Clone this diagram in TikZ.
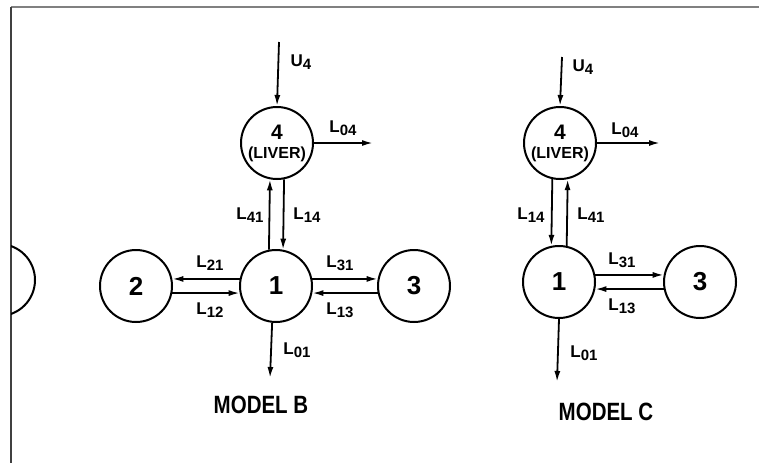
\documentclass[tikz,border=0pt]{standalone}
\usepackage{fontspec}
\setmainfont{Liberation Sans}
\usetikzlibrary{arrows.meta}
\newcommand{\rate}[2]{#1\raisebox{-0.35ex}{\fontsize{15}{15}\selectfont #2}}

\begin{document}
\begin{tikzpicture}[x=1pt,y=-1pt,
    comp/.style={circle,draw,line width=2pt,minimum size=72pt,inner sep=0pt,font=\bfseries\fontsize{26}{26}\selectfont},
    liver/.style={font=\bfseries\fontsize{21}{21}\selectfont},
    flow/.style={line width=1.8pt,-{Latex[length=11pt,width=6pt]}},
    lab/.style={font=\bfseries\fontsize{17}{17}\selectfont,inner sep=1pt},
    title/.style={font=\bfseries\fontsize{25}{25}\selectfont}]
    \useasboundingbox (0,0) rectangle (759,463);
    % frame
    \draw[gray,line width=1.5pt] (11,7) -- (759,7);
    \draw[darkgray,line width=1.2pt] (11,7) -- (11,463);
    \begin{scope}
      \clip (11,0) rectangle (759,463);
      \node (prev) [comp] at (-1,280) {};
    \end{scope}

    % model B
    \node (b1) [comp] at (276,286) {1};
    \node (b2) [comp] at (136,286) {2};
    \node (b3) [comp] at (414,286) {3};
    \node (b4) [comp,liver,align=center] at (277,143) {4\\[-2pt]{\fontsize{16}{16}\selectfont (LIVER)}};
    \coordinate (bu) at (279,42);
    \coordinate (bo4) at (373,143);
    \coordinate (bo1) at (270,378);
    \draw[flow] (bu) -- (b4.north);
    \draw[flow] (b4.east) -- (bo4);
    \draw[flow] (b1.264) -- (bo1);
    \draw[flow] (b1.101) -- (b4.259);
    \draw[flow] (b4.281) -- (b1.79);
    \draw[flow] (b1.169) -- (b2.11);
    \draw[flow] (b2.-11) -- (b1.191);
    \draw[flow] (b1.11) -- (b3.169);
    \draw[flow] (b3.191) -- (b1.-11);
    \node[lab] at (301,62) {\rate{U}{4}};
    \node[lab] at (343,128) {\rate{L}{04}};
    \node[lab] at (297,350) {\rate{L}{01}};
    \node[lab] at (250,215) {\rate{L}{41}};
    \node[lab] at (307,215) {\rate{L}{14}};
    \node[lab] at (210,263) {\rate{L}{21}};
    \node[lab] at (210,310) {\rate{L}{12}};
    \node[lab] at (340,263) {\rate{L}{31}};
    \node[lab] at (340,310) {\rate{L}{13}};
    \node[title] (mb) at (261,405) {\scalebox{0.82}[1]{MODEL B}};

    % model C
    \node (c1) [comp] at (559,282) {1};
    \node (c3) [comp] at (700,282) {3};
    \node (c4) [comp,liver,align=center] at (560,143) {4\\[-2pt]{\fontsize{16}{16}\selectfont (LIVER)}};
    \coordinate (cu) at (562,57);
    \coordinate (co4) at (660,143);
    \coordinate (co1) at (557,382);
    \draw[flow] (cu) -- (c4.north);
    \draw[flow] (c4.east) -- (co4);
    \draw[flow] (c1.south) -- (co1);
    \draw[flow] (c4.258) -- (c1.102);
    \draw[flow] (c1.78) -- (c4.282);
    \draw[flow] (c1.11) -- (c3.169);
    \draw[flow] (c3.191) -- (c1.-11);
    \node[lab] at (583,67) {\rate{U}{4}};
    \node[lab] at (625,130) {\rate{L}{04}};
    \node[lab] at (584,353) {\rate{L}{01}};
    \node[lab] at (531,215) {\rate{L}{14}};
    \node[lab] at (591,215) {\rate{L}{41}};
    \node[lab] at (622,260) {\rate{L}{31}};
    \node[lab] at (622,306) {\rate{L}{13}};
    \node[title] (mc) at (606,412) {\scalebox{0.82}[1]{MODEL C}};
  \end{tikzpicture}
\end{document}
